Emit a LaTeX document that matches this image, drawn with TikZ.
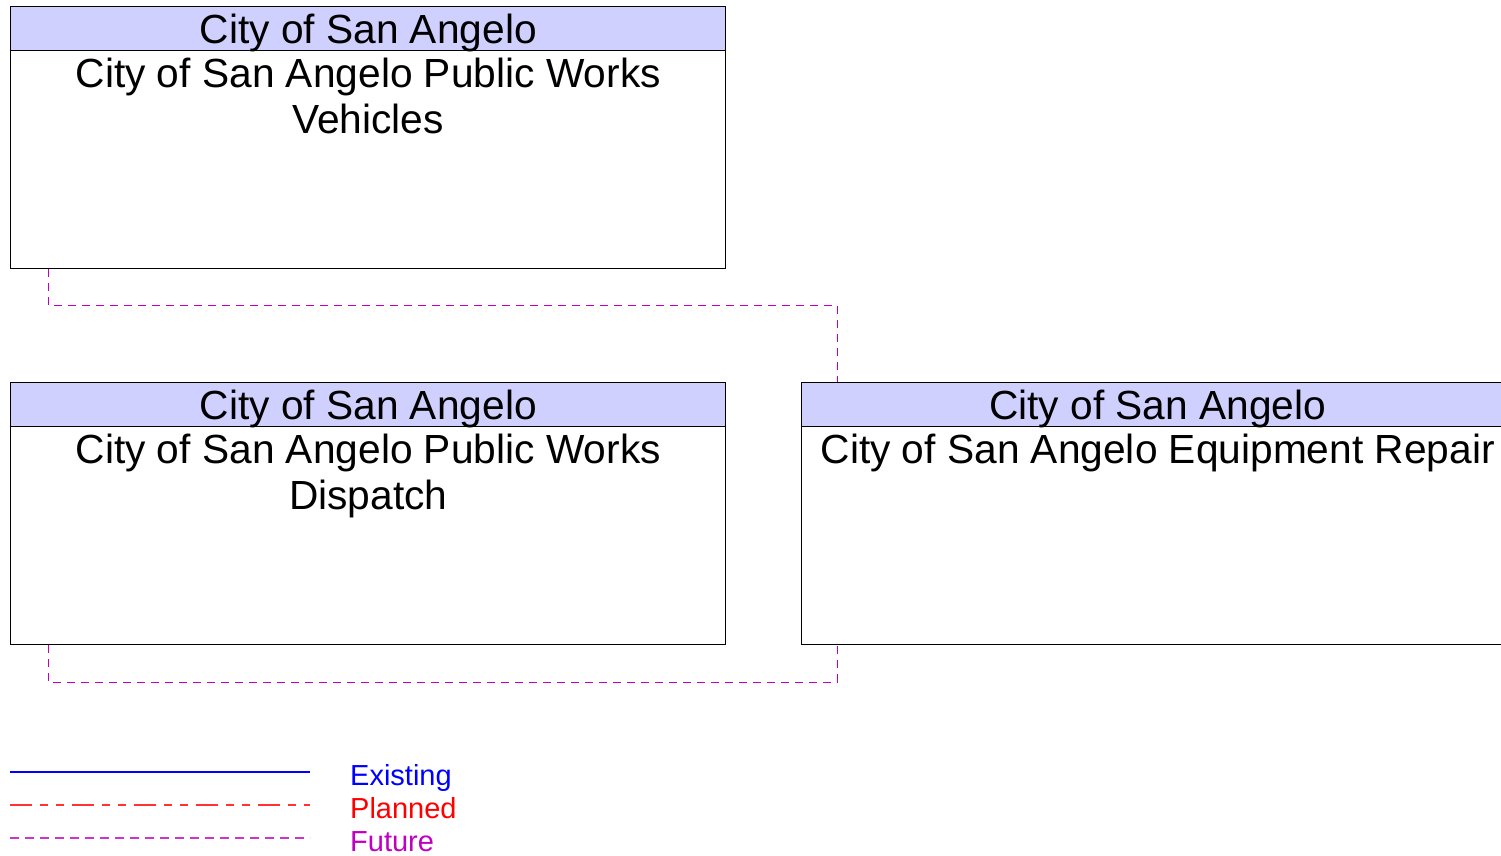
\documentclass[tikz,border=0pt]{standalone}
\usepackage{fontspec}
\setmainfont{Liberation Sans}
\usetikzlibrary{positioning}
\definecolor{headerlav}{HTML}{D0D0FF}
\definecolor{futuremag}{HTML}{C000C0}
\definecolor{existblue}{HTML}{0000FF}
\definecolor{planred}{HTML}{FF0000}

\begin{document}
\begin{tikzpicture}[x=1pt,y=-1pt,line join=miter,
    sysbox/.style={draw=black,line width=1.4pt,fill=white,anchor=north west,
      minimum width=#1,minimum height=262pt,inner sep=0pt},
    sysbox/.default=715pt,
    header/.style={draw=black,line width=1.4pt,fill=headerlav,anchor=north west,
      minimum width=#1,minimum height=44pt,inner sep=0pt,text depth=0pt,
      font=\fontsize{40.7}{46}\selectfont},
    header/.default=715pt,
    bodytext/.style={anchor=north,align=center,inner sep=0pt,
      font=\fontsize{40.7}{46}\selectfont},
    future/.style={futuremag,line width=1pt,dash pattern=on 8pt off 6pt},
    legendtext/.style={anchor=base west,inner sep=0pt,font=\fontsize{29}{33}\selectfont}]
  \useasboundingbox (0,0) rectangle (1501,855);

  % Stakeholder systems
  \node[sysbox] (veh) at (10,6) {};
  \node[header] (vehhead) at (10,6) {City of San Angelo};
  \node[bodytext,below=6pt of vehhead.south] (vehname)
    {City of San Angelo Public Works\\Vehicles};

  \node[sysbox] (disp) at (10,382) {};
  \node[header] (disphead) at (10,382) {City of San Angelo};
  \node[bodytext,below=6pt of disphead.south] (dispname)
    {City of San Angelo Public Works\\Dispatch};

  \node[sysbox=712pt] (rep) at (801,382) {};
  \node[header=712pt] (rephead) at (801,382) {City of San Angelo};
  \node[bodytext,below=6pt of rephead.south] (repname)
    {City of San Angelo Equipment Repair};

  % Future flows
  \draw[future] ([xshift=38pt]veh.south west) -- ++(0,36)
    -| ([xshift=36pt]rep.north west);
  \draw[future] ([xshift=38pt]disp.south west) -- ++(0,37)
    -| ([xshift=36pt]rep.south west);

  % Legend
  \coordinate (exA) at (10,772);
  \coordinate (exB) at (310,772);
  \coordinate (plA) at (10,805);
  \coordinate (plB) at (310,805);
  \coordinate (fuA) at (10,838);
  \coordinate (fuB) at (310,838);
  \draw[existblue,line width=2.4pt] (exA) -- (exB);
  \draw[planred!80,line width=1.4pt,
    dash pattern=on 22pt off 8pt on 8pt off 8pt on 8pt off 8pt] (plA) -- (plB);
  \draw[futuremag!80,line width=1.4pt,dash pattern=on 9pt off 6pt] (fuA) -- (fuB);
  \node[legendtext,text=existblue] (exlab) at (350,785) {Existing};
  \node[legendtext,text=planred] (pllab) at (350,818) {Planned};
  \node[legendtext,text=futuremag] (fulab) at (350,851) {Future};
\end{tikzpicture}
\end{document}
